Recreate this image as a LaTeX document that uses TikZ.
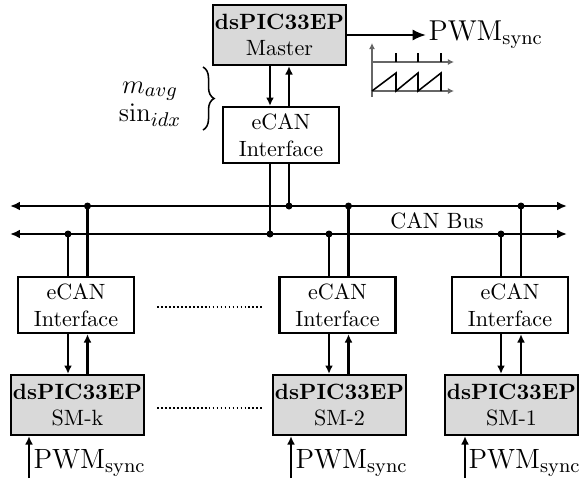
\documentclass[tikz,border=0pt]{standalone}
\usetikzlibrary{arrows.meta,decorations.pathreplacing}
\newlength{\du}
\setlength{\du}{0.4525pt}
\tikzset{
  dspicbox/.style={draw,line width=1pt,fill=gray!30,minimum width=133\du,minimum height=60\du,inner sep=0pt,align=center},
  canbox/.style={draw,line width=1pt,fill=white,minimum width=116\du,minimum height=56\du,inner sep=0pt,align=center},
  wire/.style={line width=1pt},
  link/.style={line width=1pt,-{Latex[length=3.8pt,width=3.6pt]}},
  busdot/.style={circle,fill=black,inner sep=0pt,minimum size=7\du},
  pwmlabel/.style={anchor=west,inner sep=1pt,font=\fontsize{12.6}{15}\selectfont},
  axisline/.style={line width=0.7pt,black!60,-{Latex[length=2.8pt,width=2.8pt]}},
}

\begin{document}
\begin{tikzpicture}
\pgftransformxscale{1.000000}
\pgftransformyscale{-1.000000}
\useasboundingbox (0\du,0\du) rectangle (579\du,479\du);
% master
\node[dspicbox] (master) at (279.5\du,35\du){\textbf{dsPIC33EP}\\Master};
\node[canbox] (mcan) at (281\du,135\du){eCAN\\Interface};
\node[pwmlabel,font=\fontsize{13}{15}\selectfont] (pwmm) at (426\du,35\du){PWM$_{\mathrm{sync}}$};
\draw[wire,-{Latex[length=6pt,width=5pt]}] (master.east) -- (pwmm.west);
% parameters sent by the master
\node[font=\fontsize{13}{15}\selectfont,align=center] (params) at (150\du,104\du){$m_{avg}$\\[-2pt]$\sin_{idx}$};
\draw[line width=0.7pt,decorate,decoration={brace,amplitude=5pt}] (203\du,67\du) -- (203\du,130\du);
% carrier sketch
\draw[axisline] (372\du,97\du) -- (372\du,43\du);
\draw[axisline] (372\du,62\du) -- (454\du,62\du);
\draw[axisline] (372\du,91\du) -- (454\du,91\du);
\foreach \tx in {396,418,441}
  \draw[line width=1pt] (\tx\du,53\du) -- (\tx\du,62\du);
\draw[line width=0.7pt] (372\du,91\du) -- (396\du,73\du) -- (396\du,91\du) -- (418\du,73\du)
  -- (418\du,91\du) -- (441\du,73\du) -- (441\du,91\du);
% CAN bus
\coordinate (busAw) at (10\du,206\du);
\coordinate (busAe) at (567\du,206\du);
\coordinate (busBw) at (10\du,234\du);
\coordinate (busBe) at (567\du,234\du);
\draw[wire,{Latex[length=4.5pt,width=4pt]}-{Latex[length=4.5pt,width=4pt]}] (busAw) -- (busAe);
\draw[wire,{Latex[length=4.5pt,width=4pt]}-{Latex[length=4.5pt,width=4pt]}] (busBw) -- (busBe);
\node (canbus) at (437\du,221\du){CAN Bus};
% master taps
\node[busdot] (mdn) at (270\du,234\du){};
\node[busdot] (mup) at (289\du,206\du){};
\draw[link] (master.south -| mdn) -- (mcan.north -| mdn);
\draw[link] (mcan.north -| mup) -- (master.south -| mup);
\draw[wire] (mcan.south -| mdn) -- (mdn.center);
\draw[wire] (mcan.south -| mup) -- (mup.center);
% slave SM-k
\node[canbox] (smkcan) at (76\du,305\du){eCAN\\Interface};
\node[dspicbox] (smk) at (77.5\du,405\du){\textbf{dsPIC33EP}\\SM-k};
\node[busdot] (kdn) at (68\du,234\du){};
\node[busdot] (kup) at (87.5\du,206\du){};
\draw[wire] (smkcan.north -| kdn) -- (kdn.center);
\draw[wire] (smkcan.north -| kup) -- (kup.center);
\draw[link] (smkcan.south -| kdn) -- (smk.north -| kdn);
\draw[link] (smk.north -| kup) -- (smkcan.south -| kup);
\coordinate (pk) at (29\du,478\du);
\draw[link] (pk) -- (pk |- smk.south);
\node[pwmlabel] (pwmk) at (31\du,463\du){PWM$_{\mathrm{sync}}$};
% slave SM-2
\node[canbox] (sm2can) at (337.5\du,305\du){eCAN\\Interface};
\node[dspicbox] (sm2) at (339.5\du,405\du){\textbf{dsPIC33EP}\\SM-2};
\node[busdot] (tdn) at (329\du,234\du){};
\node[busdot] (tup) at (348.5\du,206\du){};
\draw[wire] (sm2can.north -| tdn) -- (tdn.center);
\draw[wire] (sm2can.north -| tup) -- (tup.center);
\draw[link] (sm2can.south -| tdn) -- (sm2.north -| tdn);
\draw[link] (sm2.north -| tup) -- (sm2can.south -| tup);
\coordinate (p2) at (291\du,478\du);
\draw[link] (p2) -- (p2 |- sm2.south);
\node[pwmlabel] (pwm2) at (293\du,463\du){PWM$_{\mathrm{sync}}$};
% slave SM-1
\node[canbox] (sm1can) at (510\du,305\du){eCAN\\Interface};
\node[dspicbox] (sm1) at (511.5\du,405\du){\textbf{dsPIC33EP}\\SM-1};
\node[busdot] (odn) at (501\du,234\du){};
\node[busdot] (oup) at (521\du,206\du){};
\draw[wire] (sm1can.north -| odn) -- (odn.center);
\draw[wire] (sm1can.north -| oup) -- (oup.center);
\draw[link] (sm1can.south -| odn) -- (sm1.north -| odn);
\draw[link] (sm1.north -| oup) -- (sm1can.south -| oup);
\coordinate (p1) at (465\du,478\du);
\draw[link] (p1) -- (p1 |- sm1.south);
\node[pwmlabel] (pwm1) at (466\du,463\du){PWM$_{\mathrm{sync}}$};
% skipped slaves
\coordinate (gapa) at (157\du,307\du);
\coordinate (gapb) at (263\du,307\du);
\coordinate (gapc) at (157\du,408\du);
\coordinate (gapd) at (263\du,408\du);
\draw[line width=0.8pt,densely dotted] (gapa) -- (gapb);
\draw[line width=0.8pt,densely dotted] (gapc) -- (gapd);
\end{tikzpicture}
\end{document}
